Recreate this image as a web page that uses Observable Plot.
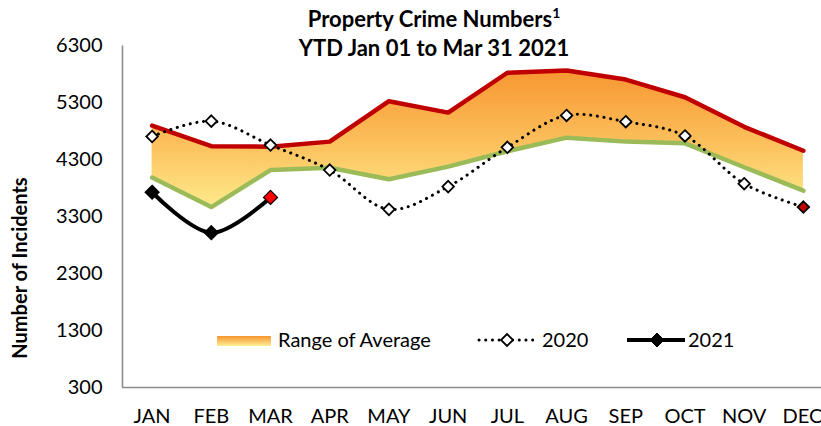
<!DOCTYPE html>
<html>
<head>
<meta charset="utf-8">
<script src="https://cdn.jsdelivr.net/npm/d3@7"></script>
<script src="https://cdn.jsdelivr.net/npm/@observablehq/plot@0.6"></script>
<style>
  html, body { margin: 0; padding: 0; background: #fff; overflow: hidden; }
  #wrap { position: relative; width: 821px; height: 426px; overflow: hidden; font-family: Lato, "Open Sans", sans-serif; }
  #wrap svg.plot { overflow: hidden; }
  #overlay { position: absolute; left: 0; top: 0; pointer-events: none; }
</style>
</head>
<body>
<div id="wrap"></div>
<script>
const months = ["JAN","FEB","MAR","APR","MAY","JUN","JUL","AUG","SEP","OCT","NOV","DEC"];
const rangeHigh = [4900, 4540, 4530, 4620, 5330, 5130, 5830, 5870, 5710, 5400, 4880, 4460];
const rangeLow  = [3990, 3470, 4120, 4160, 3960, 4180, 4450, 4690, 4620, 4590, 4170, 3760];
const y2020     = [4710, 4980, 4560, 4120, 3430, 3830, 4520, 5080, 4970, 4720, 3880, 3470];
const y2021     = [3730, 3020, 3640];
const yTicks    = [300, 1300, 2300, 3300, 4300, 5300, 6300];

const rangeData = months.map((m, i) => ({i, m, lo: rangeLow[i], hi: rangeHigh[i]}));
const d2020 = y2020.map((v, i) => ({i, v, last: i === y2020.length - 1}));
const d2021 = y2021.map((v, i) => ({i, v, last: i === y2021.length - 1}));
const lastIdx = months.length - 1;

const plot = Plot.plot({
  width: 821,
  height: 426,
  marginLeft: 122,
  marginRight: 0,
  marginTop: 45.5,
  marginBottom: 39,
  style: {fontFamily: "Lato, 'Open Sans', sans-serif", fontSize: "20px", color: "#000", background: "#fff"},
  x: {type: "linear", domain: [-0.5, 11.5], range: [122, 832.5]},
  y: {domain: [300, 6300], range: [387, 45.5]},
  marks: [
    Plot.areaY(rangeData, {x: "i", y1: "lo", y2: "hi", fill: "url(#rangeGrad)"}),
    Plot.lineY(rangeData, {x: "i", y: "lo", stroke: "#9BBB59", strokeWidth: 4.5}),
    Plot.lineY(rangeData, {x: "i", y: "hi", stroke: "#C00000", strokeWidth: 4.5}),
    Plot.lineY(d2020, {x: "i", y: "v", stroke: "#000", strokeWidth: 3, strokeDasharray: "0.1 6.6", strokeLinecap: "round", curve: "catmull-rom"}),
    Plot.dot(d2020, {x: "i", y: "v", symbol: "diamond2", r: 5.2, fill: d => d.last ? "#C00000" : "#fff", stroke: "#000", strokeWidth: 1.8}),
    Plot.lineY(d2021, {x: "i", y: "v", stroke: "#000", strokeWidth: 4, curve: "catmull-rom"}),
    Plot.dot(d2021, {x: "i", y: "v", symbol: "diamond2", r: 6.3, fill: d => d.last ? "#FF0000" : "#000", stroke: "#000", strokeWidth: 1.2}),
    Plot.ruleX([-0.5], {stroke: "#8C8C8C", strokeWidth: 1.6}),
    Plot.ruleY([300], {stroke: "#8C8C8C", strokeWidth: 1.6}),
    Plot.axisY({ticks: yTicks, tickSize: 0, tickPadding: 20, tickFormat: d => String(d), label: null, fontSize: 20}),
    Plot.axisX({ticks: d3.range(lastIdx), tickSize: 0, tickPadding: 21, tickFormat: i => months[i], label: null, fontSize: 20}),
    Plot.axisX({ticks: [lastIdx], tickSize: 0, tickPadding: 21, tickFormat: i => months[i], label: null, fontSize: 20, textAnchor: "end", dx: 19})
  ]
});
plot.classList.add("plot");

const ns = "http://www.w3.org/2000/svg";
const defs = document.createElementNS(ns, "defs");
defs.innerHTML = `
  <linearGradient id="rangeGrad" gradientUnits="userSpaceOnUse" x1="0" y1="68" x2="0" y2="210">
    <stop offset="0" stop-color="#F7952F"/>
    <stop offset="0.55" stop-color="#FCC25E"/>
    <stop offset="1" stop-color="#FFEC8E"/>
  </linearGradient>`;
plot.insertBefore(defs, plot.firstChild);

const wrap = document.getElementById("wrap");
wrap.appendChild(plot);

const overlay = document.createElementNS(ns, "svg");
overlay.setAttribute("id", "overlay");
overlay.setAttribute("width", 821);
overlay.setAttribute("height", 426);
overlay.setAttribute("font-family", "Lato, 'Open Sans', sans-serif");
overlay.innerHTML = `
  <defs>
    <linearGradient id="legGrad2" x1="0" y1="0" x2="0" y2="1">
      <stop offset="0" stop-color="#F7952F"/>
      <stop offset="1" stop-color="#FFEF96"/>
    </linearGradient>
  </defs>
  <text x="434" y="27" text-anchor="middle" font-weight="bold" font-size="22">Property Crime Numbers<tspan font-size="14" dy="-9">1</tspan></text>
  <text x="434" y="56" text-anchor="middle" font-weight="bold" font-size="22">YTD Jan 01 to Mar 31 2021</text>
  <text transform="translate(27,268) rotate(-90)" text-anchor="middle" font-weight="bold" font-size="20">Number of Incidents</text>
  <rect x="217" y="336" width="54" height="10" fill="url(#legGrad2)"/>
  <text x="278" y="347" font-size="20">Range of Average</text>
  <line x1="479" y1="340" x2="537" y2="340" stroke="#000" stroke-width="3" stroke-dasharray="0.1 6.6" stroke-linecap="round"/>
  <path d="M507,334 L513,340 L507,346 L501,340 Z" fill="#fff" stroke="#000" stroke-width="1.8"/>
  <text x="542" y="347" font-size="20">2020</text>
  <line x1="627" y1="340" x2="685" y2="340" stroke="#000" stroke-width="4"/>
  <path d="M657,333 L664,340 L657,347 L650,340 Z" fill="#000" stroke="#000" stroke-width="1"/>
  <text x="688" y="347" font-size="20">2021</text>
`;
wrap.appendChild(overlay);
</script>
</body>
</html>
